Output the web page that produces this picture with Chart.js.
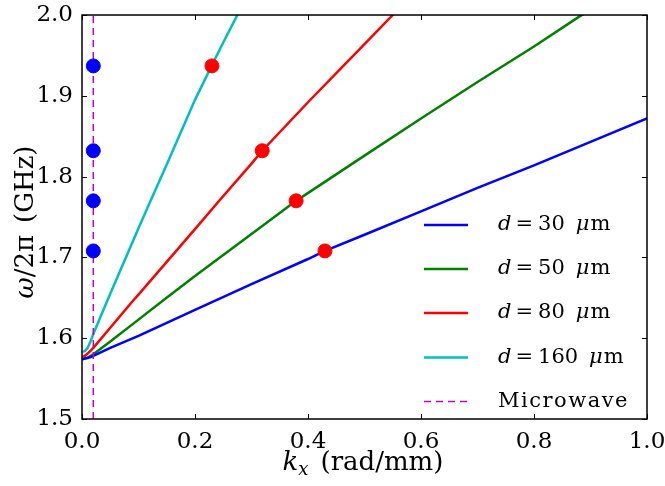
<!DOCTYPE html>
<html>
<head>
<meta charset="utf-8">
<script src="https://cdn.jsdelivr.net/npm/chart.js@4/dist/chart.umd.min.js"></script>
<style>
html,body{margin:0;padding:0;background:#fff;}
#wrap{width:665px;height:486px;}
</style>
</head>
<body>
<div id="wrap"><canvas id="c" width="665" height="486"></canvas></div>
<script>
// ---- data ----
const xTicks = [0.0, 0.2, 0.4, 0.6, 0.8, 1.0];
const yTicks = [1.5, 1.6, 1.7, 1.8, 1.9, 2.0];

const k30  = [0, 0.01, 0.02, 0.05, 0.1, 0.2, 0.3, 0.4, 0.43, 0.5, 0.6, 0.7, 0.8, 0.9, 1.0];
const f30  = [1.574, 1.5755, 1.578, 1.588, 1.603, 1.635, 1.667, 1.698, 1.708, 1.728, 1.757, 1.786, 1.814, 1.843, 1.872];

const k50  = [0, 0.01, 0.02, 0.05, 0.1, 0.144, 0.2, 0.3, 0.379, 0.5, 0.6, 0.7, 0.8, 0.88, 0.9];
const f50  = [1.574, 1.576, 1.580, 1.596, 1.623, 1.647, 1.677, 1.729, 1.770, 1.826, 1.872, 1.917, 1.961, 1.998, 2.006];

const k80  = [0, 0.005, 0.01, 0.02, 0.05, 0.091, 0.1, 0.2, 0.244, 0.3, 0.319, 0.4, 0.5, 0.55, 0.56];
const f80  = [1.577, 1.578, 1.581, 1.588, 1.613, 1.647, 1.654, 1.735, 1.771, 1.816, 1.832, 1.892, 1.964, 2.0, 2.007];

const k160 = [0, 0.005, 0.01, 0.015, 0.02, 0.03, 0.05, 0.1, 0.12, 0.15, 0.2, 0.23, 0.25, 0.275, 0.28];
const f160 = [1.583, 1.584, 1.588, 1.596, 1.605, 1.622, 1.655, 1.736, 1.768, 1.815, 1.895, 1.938, 1.966, 2.0, 2.007];

const kMicrowave = 0.02;
const fMicrowaveLine = [1.5, 2.0];

const kRedDots = [0.430, 0.379, 0.319, 0.230];
const fDots    = [1.708, 1.770, 1.832, 1.937];

const seriesLabels = ['30', '50', '80', '160'];
const microwaveLabel = 'Microwave';
const xTitle = ['k', 'x', '(rad/mm)'];
const yTitle = ['ω', '/2π', '(GHz)'];

// ---- build datasets ----
const pts = (xs, ys) => xs.map((x, i) => ({x: x, y: ys[i]}));
const lineColors = ['#0000ff', '#008000', '#ff0000', '#00bfbf'];
const lineData = [pts(k30, f30), pts(k50, f50), pts(k80, f80), pts(k160, f160)];

const datasets = lineData.map((d, i) => ({
  type: 'line', data: d, borderColor: lineColors[i], borderWidth: 2.5,
  pointRadius: 0, tension: 0, fill: false, order: 3, label: seriesLabels[i],
  borderJoinStyle: 'round'
}));
datasets.push({
  type: 'line', data: fMicrowaveLine.map(y => ({x: kMicrowave, y: y})),
  borderColor: '#bf00bf', borderWidth: 1.5, borderDash: [7, 5],
  pointRadius: 0, fill: false, order: 2, label: microwaveLabel
});
datasets.push({
  type: 'scatter', data: fDots.map(y => ({x: kMicrowave, y: y})),
  backgroundColor: '#0000ff', borderColor: '#0000ff', pointRadius: 7, order: 1, clip: false
});
datasets.push({
  type: 'scatter', data: pts(kRedDots, fDots),
  backgroundColor: '#ff0000', borderColor: '#ff0000', pointRadius: 7, order: 1, clip: false
});

const SERIF = '"DejaVu Serif", "Liberation Serif", serif';

const framePlugin = {
  id: 'frame',
  afterDraw(chart) {
    const ctx = chart.ctx, a = chart.chartArea;
    const xs = chart.scales.x, ys = chart.scales.y;
    ctx.save();
    ctx.strokeStyle = '#000';
    ctx.lineWidth = 1;
    // inward ticks
    ctx.beginPath();
    xTicks.forEach(v => {
      const px = Math.round(xs.getPixelForValue(v)) + 0.5;
      ctx.moveTo(px, a.bottom); ctx.lineTo(px, a.bottom - 5);
      ctx.moveTo(px, a.top); ctx.lineTo(px, a.top + 5);
    });
    yTicks.forEach(v => {
      const py = Math.round(ys.getPixelForValue(v)) + 0.5;
      ctx.moveTo(a.left, py); ctx.lineTo(a.left + 5, py);
      ctx.moveTo(a.right, py); ctx.lineTo(a.right - 5, py);
    });
    ctx.stroke();
    // frame
    ctx.lineWidth = 1.5;
    ctx.strokeRect(a.left, a.top, a.right - a.left, a.bottom - a.top);

    // legend
    const rows = [225, 269, 313, 357.5, 401.5];
    const lx0 = 424, lx1 = 468, tx = 498;
    const fs = 21;
    const reg = fs + 'px ' + SERIF, ita = 'italic ' + fs + 'px ' + SERIF;
    ctx.textBaseline = 'middle';
    ctx.fillStyle = '#000';
    for (let i = 0; i < 4; i++) {
      const y = rows[i];
      ctx.strokeStyle = lineColors[i]; ctx.lineWidth = 2.5; ctx.setLineDash([]);
      ctx.beginPath(); ctx.moveTo(lx0, y); ctx.lineTo(lx1, y); ctx.stroke();
      let x = tx;
      ctx.textAlign = 'left';
      ctx.font = ita; ctx.fillText('d', x, y); x += ctx.measureText('d').width + 4;
      ctx.font = reg; ctx.fillText('=', x, y); x += ctx.measureText('=').width + 5;
      ctx.fillText(seriesLabels[i], x, y); x += ctx.measureText(seriesLabels[i]).width + 11;
      ctx.font = ita; ctx.fillText('μ', x, y); x += ctx.measureText('μ').width + 1;
      ctx.font = reg; ctx.fillText('m', x, y);
    }
    const ym = rows[4];
    ctx.strokeStyle = '#bf00bf'; ctx.lineWidth = 1.5; ctx.setLineDash([7, 5]);
    ctx.beginPath(); ctx.moveTo(lx0, ym); ctx.lineTo(lx1, ym); ctx.stroke();
    ctx.setLineDash([]);
    ctx.font = reg; ctx.fillStyle = '#000';
    try { ctx.letterSpacing = '1.5px'; } catch (e) {}
    ctx.fillText(microwaveLabel, tx, ym);
    try { ctx.letterSpacing = '0px'; } catch (e) {}

    // axis titles
    const tfs = 26;
    const treg = tfs + 'px ' + SERIF, tita = 'italic ' + tfs + 'px ' + SERIF;
    const sub = 'italic 18px ' + SERIF;
    // x title
    ctx.font = tita; const wk = ctx.measureText(xTitle[0]).width;
    ctx.font = sub; const wsub = ctx.measureText(xTitle[1]).width;
    ctx.font = treg; const wrest = ctx.measureText(xTitle[2]).width;
    const gap = 12;
    let xx = 363 - (wk + wsub + gap + wrest) / 2;
    const yb = 470;
    ctx.textBaseline = 'alphabetic'; ctx.textAlign = 'left';
    ctx.font = tita; ctx.fillText(xTitle[0], xx, yb); xx += wk;
    ctx.font = sub; ctx.fillText(xTitle[1], xx, yb + 5); xx += wsub + gap;
    ctx.font = treg; ctx.fillText(xTitle[2], xx, yb);
    // y title (rotated)
    ctx.save();
    ctx.translate(33, 222);
    ctx.rotate(-Math.PI / 2);
    ctx.font = tita; const ww = ctx.measureText(yTitle[0]).width;
    ctx.font = treg; const wr1 = ctx.measureText(yTitle[1]).width;
    const wr2 = ctx.measureText(yTitle[2]).width;
    let yx = -(ww + wr1 + gap + wr2) / 2;
    ctx.font = tita; ctx.fillText(yTitle[0], yx, 0); yx += ww;
    ctx.font = treg; ctx.fillText(yTitle[1], yx, 0); yx += wr1 + gap;
    ctx.fillText(yTitle[2], yx, 0);
    ctx.restore();
    ctx.restore();
  }
};

new Chart(document.getElementById('c'), {
  data: { datasets: datasets },
  options: {
    responsive: false,
    animation: false,
    layout: { padding: { top: 15, right: 18, left: 0, bottom: 0 } },
    plugins: { legend: { display: false }, tooltip: { enabled: false } },
    scales: {
      x: {
        type: 'linear', min: 0, max: 1.0,
        afterBuildTicks: s => { s.ticks = xTicks.map(v => ({value: v})); },
        afterFit: s => { s.height = 67; s.paddingLeft = 0; s.paddingRight = 0; },
        grid: { display: false, drawTicks: false }, border: { display: false },
        ticks: { color: '#000', padding: 9, font: { family: SERIF, size: 23 },
                 callback: v => Number(v).toFixed(1) }
      },
      y: {
        type: 'linear', min: 1.5, max: 2.0,
        afterBuildTicks: s => { s.ticks = yTicks.map(v => ({value: v})); },
        afterFit: s => { s.width = 82; s.paddingTop = 0; s.paddingBottom = 0; },
        grid: { display: false, drawTicks: false }, border: { display: false },
        ticks: { color: '#000', padding: 9, font: { family: SERIF, size: 23 },
                 callback: v => Number(v).toFixed(1) }
      }
    }
  },
  plugins: [framePlugin]
});
</script>
</body>
</html>
